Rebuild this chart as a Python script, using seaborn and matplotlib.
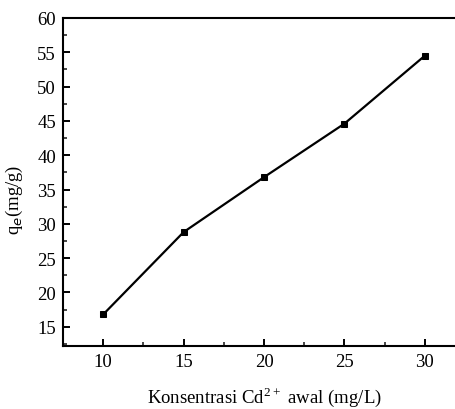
import matplotlib
matplotlib.use("Agg")
import matplotlib.pyplot as plt
from matplotlib.ticker import MultipleLocator
import seaborn as sns
import pandas as pd

konsentrasi = [10, 15, 20, 25, 30]
qe = [16.8, 28.8, 36.8, 44.6, 54.5]

sns.set_theme(style="ticks")
plt.rcParams['font.family'] = ['Liberation Serif', 'DejaVu Serif']
plt.rcParams['mathtext.fontset'] = 'custom'
plt.rcParams['mathtext.rm'] = 'Liberation Serif'

df = pd.DataFrame({"x": konsentrasi, "y": qe})

fig = plt.figure(figsize=(4.55, 4.10), dpi=100)
ax = fig.add_axes([63/455, 63/410, 402/455, 328/410])
sns.lineplot(data=df, x="x", y="y", ax=ax, color="black", linewidth=1.6,
             marker="s", markersize=4.5, markeredgecolor="black")

ax.set_xlim(7.5, 32.5)
ax.set_ylim(12.2, 60)
ax.xaxis.set_major_locator(MultipleLocator(5))
ax.xaxis.set_minor_locator(MultipleLocator(2.5))
ax.yaxis.set_minor_locator(MultipleLocator(2.5))
ax.set_yticks([15, 20, 25, 30, 35, 40, 45, 50, 55, 60])
ax.tick_params(which="major", direction="in", length=5, width=1.4, labelsize=13.5,
               colors="black", pad=5)
ax.tick_params(which="minor", direction="in", length=3, width=1.2)
ax.tick_params(top=False, right=False, which="both")
for s in ax.spines.values():
    s.set_linewidth(1.5)
    s.set_color("black")
ax.set_xlabel("Konsentrasi Cd$^{2+}$ awal (mg/L)", fontsize=13.5, labelpad=10, color="black")
ax.set_ylabel("q$_e$(mg/g)", fontsize=13.5, color="black")
ax.yaxis.set_label_coords(-0.095, 0.45)
ax.grid(False)

fig.savefig("out.png", dpi=100)
